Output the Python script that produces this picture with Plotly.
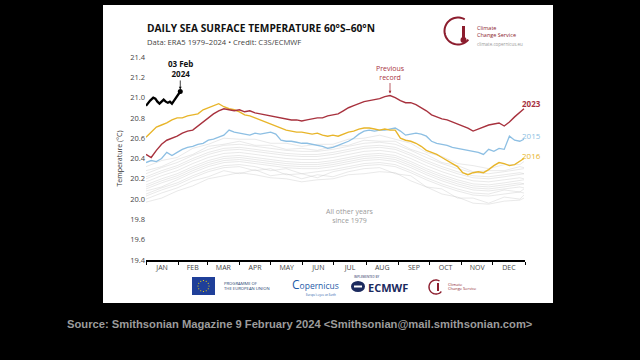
import plotly.graph_objects as go
import math

# ---------------- data ----------------
months = ["JAN", "FEB", "MAR", "APR", "MAY", "JUN", "JUL", "AUG", "SEP", "OCT", "NOV", "DEC"]
month_starts = [0, 31, 59, 90, 120, 151, 181, 212, 243, 273, 304, 334, 365]
yticks = [19.4, 19.6, 19.8, 20.0, 20.2, 20.4, 20.6, 20.8, 21.0, 21.2, 21.4]

days5 = [0, 5, 10, 15, 20, 25, 30, 35, 40, 45, 50, 55, 60, 65, 70, 75, 80, 85, 90, 95,
         100, 105, 110, 115, 120, 125, 130, 135, 140, 145, 150, 155, 160, 165, 170, 175,
         180, 185, 190, 195, 200, 205, 210, 215, 220, 225, 230, 235, 240, 245, 250, 255,
         260, 265, 270, 275, 280, 285, 290, 295, 300, 305, 310, 315, 320, 325, 330, 335,
         340, 345, 350, 355, 360, 364]

sst_2023 = [20.44, 20.41, 20.48, 20.54, 20.58, 20.60, 20.62, 20.65, 20.67, 20.68, 20.72, 20.76,
            20.80, 20.84, 20.87, 20.89, 20.88, 20.87, 20.88, 20.86, 20.87, 20.85, 20.84, 20.83,
            20.82, 20.81, 20.80, 20.79, 20.78, 20.78, 20.77, 20.78, 20.79, 20.80, 20.80, 20.82,
            20.83, 20.84, 20.87, 20.90, 20.92, 20.94, 20.96, 20.97, 20.98, 20.99, 21.01, 21.02,
            21.00, 20.97, 20.95, 20.95, 20.93, 20.90, 20.87, 20.83, 20.81, 20.79, 20.78, 20.76,
            20.74, 20.72, 20.70, 20.67, 20.69, 20.71, 20.73, 20.74, 20.75, 20.72, 20.76, 20.81,
            20.85, 20.89]

sst_2016 = [20.61, 20.66, 20.71, 20.73, 20.75, 20.78, 20.80, 20.80, 20.82, 20.83, 20.84, 20.88,
            20.90, 20.92, 20.94, 20.91, 20.89, 20.88, 20.86, 20.83, 20.82, 20.80, 20.78, 20.76,
            20.74, 20.72, 20.70, 20.68, 20.67, 20.66, 20.66, 20.65, 20.64, 20.65, 20.63, 20.62,
            20.63, 20.62, 20.64, 20.66, 20.67, 20.69, 20.70, 20.70, 20.69, 20.68, 20.69, 20.68,
            20.68, 20.60, 20.58, 20.57, 20.55, 20.52, 20.48, 20.46, 20.44, 20.41, 20.38, 20.35,
            20.32, 20.26, 20.24, 20.26, 20.27, 20.26, 20.29, 20.33, 20.36, 20.35, 20.33, 20.34,
            20.37, 20.40]

sst_2015 = [20.36, 20.38, 20.37, 20.40, 20.46, 20.43, 20.46, 20.49, 20.51, 20.52, 20.54, 20.55,
            20.58, 20.59, 20.61, 20.63, 20.68, 20.66, 20.65, 20.64, 20.63, 20.65, 20.64, 20.65,
            20.66, 20.64, 20.58, 20.57, 20.57, 20.56, 20.55, 20.55, 20.54, 20.53, 20.52, 20.50,
            20.51, 20.53, 20.55, 20.57, 20.60, 20.64, 20.67, 20.68, 20.67, 20.68, 20.68, 20.69,
            20.70, 20.67, 20.63, 20.64, 20.65, 20.64, 20.62, 20.57, 20.55, 20.54, 20.53, 20.51,
            20.50, 20.49, 20.48, 20.47, 20.46, 20.44, 20.49, 20.47, 20.50, 20.49, 20.62, 20.58,
            20.57, 20.59]

days_2024 = [0, 2, 4, 7, 9, 11, 13, 15, 17, 19, 21, 23, 25, 27, 29, 31, 33]
sst_2024 = [20.92, 20.95, 20.97, 21.00, 20.99, 20.96, 20.94, 20.96, 20.98, 20.96, 20.95, 20.96,
            20.94, 20.97, 21.00, 21.03, 21.06]

days15 = [0, 15, 30, 45, 60, 75, 90, 105, 120, 135, 150, 165, 180, 195, 210, 225, 240, 255,
          270, 285, 300, 315, 330, 345, 360, 364]
other_years = [
    [19.97, 20.01, 20.08, 20.13, 20.20, 20.23, 20.26, 20.24, 20.21, 20.20, 20.17, 20.19, 20.20, 20.24, 20.25, 20.27, 20.26, 20.18, 20.12, 20.05, 20.02, 19.96, 19.95, 19.98, 19.99, 20.01],
    [20.00, 20.06, 20.11, 20.18, 20.22, 20.28, 20.25, 20.29, 20.23, 20.25, 20.20, 20.24, 20.22, 20.27, 20.30, 20.31, 20.25, 20.23, 20.12, 20.10, 20.01, 20.01, 19.96, 20.02, 20.00, 20.04],
    [20.03, 20.09, 20.14, 20.21, 20.27, 20.31, 20.32, 20.28, 20.30, 20.24, 20.25, 20.21, 20.27, 20.30, 20.33, 20.34, 20.32, 20.26, 20.19, 20.13, 20.08, 20.04, 20.03, 20.05, 20.07, 20.06],
    [20.05, 20.11, 20.16, 20.23, 20.29, 20.33, 20.34, 20.32, 20.28, 20.30, 20.25, 20.27, 20.29, 20.32, 20.35, 20.36, 20.34, 20.28, 20.21, 20.15, 20.10, 20.06, 20.05, 20.09, 20.07, 20.10],
    [20.08, 20.12, 20.19, 20.26, 20.32, 20.36, 20.37, 20.35, 20.33, 20.31, 20.30, 20.30, 20.32, 20.35, 20.38, 20.39, 20.37, 20.31, 20.24, 20.18, 20.13, 20.09, 20.08, 20.10, 20.12, 20.11],
    [20.10, 20.16, 20.21, 20.28, 20.34, 20.38, 20.39, 20.37, 20.35, 20.33, 20.32, 20.32, 20.34, 20.37, 20.40, 20.41, 20.39, 20.33, 20.26, 20.20, 20.15, 20.11, 20.10, 20.12, 20.14, 20.15],
    [20.12, 20.18, 20.23, 20.30, 20.36, 20.40, 20.41, 20.39, 20.37, 20.35, 20.34, 20.34, 20.36, 20.39, 20.42, 20.43, 20.41, 20.35, 20.28, 20.22, 20.17, 20.13, 20.12, 20.14, 20.16, 20.15],
    [20.14, 20.20, 20.25, 20.32, 20.38, 20.42, 20.43, 20.41, 20.39, 20.37, 20.36, 20.36, 20.38, 20.41, 20.44, 20.45, 20.43, 20.37, 20.30, 20.24, 20.19, 20.15, 20.14, 20.16, 20.18, 20.19],
    [20.17, 20.23, 20.28, 20.35, 20.41, 20.45, 20.46, 20.44, 20.42, 20.40, 20.39, 20.39, 20.41, 20.44, 20.47, 20.48, 20.46, 20.40, 20.33, 20.27, 20.22, 20.18, 20.17, 20.19, 20.21, 20.20],
    [20.20, 20.26, 20.31, 20.38, 20.44, 20.48, 20.49, 20.47, 20.45, 20.43, 20.42, 20.42, 20.44, 20.47, 20.50, 20.51, 20.49, 20.43, 20.36, 20.30, 20.25, 20.21, 20.20, 20.22, 20.24, 20.25],
    [20.22, 20.28, 20.33, 20.40, 20.46, 20.50, 20.51, 20.49, 20.47, 20.45, 20.44, 20.44, 20.46, 20.49, 20.52, 20.53, 20.51, 20.45, 20.38, 20.32, 20.27, 20.23, 20.22, 20.24, 20.26, 20.25],
    [20.25, 20.31, 20.36, 20.43, 20.49, 20.53, 20.54, 20.52, 20.50, 20.48, 20.47, 20.47, 20.49, 20.52, 20.55, 20.56, 20.54, 20.48, 20.41, 20.35, 20.30, 20.26, 20.25, 20.27, 20.29, 20.30],
    [20.28, 20.32, 20.39, 20.44, 20.52, 20.54, 20.57, 20.53, 20.53, 20.49, 20.50, 20.48, 20.52, 20.53, 20.58, 20.57, 20.57, 20.49, 20.44, 20.36, 20.33, 20.27, 20.28, 20.28, 20.32, 20.31],
    [20.32, 20.38, 20.41, 20.50, 20.54, 20.60, 20.59, 20.59, 20.55, 20.55, 20.52, 20.54, 20.54, 20.59, 20.60, 20.63, 20.59, 20.55, 20.46, 20.42, 20.35, 20.33, 20.30, 20.34, 20.34, 20.37],
]

# ---------------- styles ----------------
RED = "#a8323e"
GOLD = "#e8b52a"
BLUE = "#8dbfe3"
FONT = "Open Sans"

L, T, W, H = 146, 57, 379, 203


def px(x):
    return (x - L) / W


def py(y):
    return (T + H - y) / H


fig = go.Figure()

for vals in other_years:
    fig.add_trace(go.Scatter(x=days15, y=vals, mode="lines",
                             line=dict(color="rgba(200,200,200,0.5)", width=0.8),
                             hoverinfo="skip", showlegend=False))

fig.add_trace(go.Scatter(x=days5, y=sst_2015, mode="lines", line=dict(color=BLUE, width=1.3), showlegend=False))
fig.add_trace(go.Scatter(x=days5, y=sst_2016, mode="lines", line=dict(color=GOLD, width=1.4), showlegend=False))
fig.add_trace(go.Scatter(x=days5, y=sst_2023, mode="lines", line=dict(color=RED, width=1.4), showlegend=False))
fig.add_trace(go.Scatter(x=days_2024, y=sst_2024, mode="lines", line=dict(color="black", width=2.3), showlegend=False))
fig.add_trace(go.Scatter(x=[days_2024[-1]], y=[sst_2024[-1]], mode="markers",
                         marker=dict(color="black", size=5), showlegend=False))

mid = [(month_starts[i] + month_starts[i + 1]) / 2 for i in range(12)]

shapes = []
shapes.append(dict(type="rect", xref="paper", yref="paper", x0=px(103), x1=px(553), y0=py(303), y1=py(5),
                   fillcolor="white", line=dict(width=0), layer="below"))

annotations = []


def txt(x, y, s, size, color="#333", bold=False, anchor="left", family=FONT):
    annotations.append(dict(x=px(x), y=py(y), xref="paper", yref="paper", text=s, showarrow=False,
                            xanchor=anchor, yanchor="middle",
                            font=dict(size=size, color=color, family=family,
                                      weight="bold" if bold else "normal")))


txt(145, 28, "DAILY SEA SURFACE TEMPERATURE 60°S–60°N", 10.2, "#111", True)
txt(145, 42, "Data: ERA5 1979–2024 • Credit: C3S/ECMWF", 7.6, "#444")

# top-right logo
cx, cy, r = 458, 31, 13.5
pts = []
for k in range(0, 41):
    a = math.radians(60 + k * 6.5)
    pts.append((cx + r * math.cos(a), cy - r * math.sin(a)))
path = "M " + " L ".join(f"{px(a):.5f},{py(b):.5f}" for a, b in pts)
shapes.append(dict(type="path", xref="paper", yref="paper", path=path, line=dict(color="#8c1d2e", width=2.0)))
shapes.append(dict(type="rect", xref="paper", yref="paper", x0=px(462), x1=px(465), y0=py(39), y1=py(26),
                   fillcolor="#8c1d2e", line=dict(width=0)))
shapes.append(dict(type="circle", xref="paper", yref="paper", x0=px(460.5), x1=px(466.5), y0=py(43), y1=py(37),
                   fillcolor="#8c1d2e", line=dict(width=0)))
txt(475, 28, "Climate", 5.5, "#8c1d2e")
txt(475, 35, "Change Service", 5.5, "#8c1d2e")
txt(475, 44, "climate.copernicus.eu", 4.5, "#999")

# bottom logos
shapes.append(dict(type="rect", xref="paper", yref="paper", x0=px(192), x1=px(215), y0=py(295), y1=py(277),
                   fillcolor="#1f3f99", line=dict(width=0)))
for k in range(12):
    a = math.radians(k * 30)
    sx, sy = 203.5 + 5.5 * math.cos(a), 286 - 5.5 * math.sin(a)
    shapes.append(dict(type="circle", xref="paper", yref="paper", x0=px(sx - 0.6), x1=px(sx + 0.6),
                       y0=py(sy + 0.6), y1=py(sy - 0.6), fillcolor="#ffdd00", line=dict(width=0)))
txt(222, 283.5, "PROGRAMME OF", 4.2, "#1f3f70")
txt(222, 288.5, "THE EUROPEAN UNION", 4.2, "#1f3f70")
txt(290, 284.5, "<span style='font-size:12px'>C</span>opernicus", 8.5, "#1e5aa8")
txt(304, 294.5, "Europe's eyes on Earth", 2.8, "#1e5aa8")
txt(352, 276.5, "IMPLEMENTED BY", 3, "#1b2a5e")
shapes.append(dict(type="circle", xref="paper", yref="paper", x0=px(351), x1=px(365), y0=py(292), y1=py(281),
                   fillcolor="#1b2a5e", line=dict(width=0)))
shapes.append(dict(type="rect", xref="paper", yref="paper", x0=px(354), x1=px(362), y0=py(287.5), y1=py(285.5),
                   fillcolor="white", line=dict(width=0)))
txt(366, 287, "ECMWF", 11, "#1b2a5e", True)
pts = []
for k in range(0, 41):
    a = math.radians(60 + k * 6.5)
    pts.append((436 + 7 * math.cos(a), 287 - 7 * math.sin(a)))
path = "M " + " L ".join(f"{px(a):.5f},{py(b):.5f}" for a, b in pts)
shapes.append(dict(type="path", xref="paper", yref="paper", path=path, line=dict(color="#8c1d2e", width=1.4)))
shapes.append(dict(type="rect", xref="paper", yref="paper", x0=px(437), x1=px(439), y0=py(291), y1=py(283),
                   fillcolor="#8c1d2e", line=dict(width=0)))
txt(446, 284, "Climate", 4, "#8c1d2e")
txt(446, 288.5, "Change Service", 4, "#8c1d2e")

# caption
txt(300, 324, "Source: Smithsonian Magazine 9 February 2024 &lt;Smithsonian@mail.smithsonian.com&gt;", 11.2,
    "#9c9c9c", True, "center", "Liberation Sans")

# data annotations
annotations.append(dict(x=days_2024[-1], y=sst_2024[-1] + 0.02, text="<b>03 Feb<br>2024</b>", showarrow=True,
                        ax=0, ay=-21, arrowhead=2, arrowsize=0.7, arrowwidth=0.8, arrowcolor="#111",
                        font=dict(size=8, color="#111", family=FONT)))
annotations.append(dict(x=235, y=21.04, text="Previous<br>record", showarrow=True,
                        ax=0, ay=-21, arrowhead=2, arrowsize=0.7, arrowwidth=0.8, arrowcolor=RED,
                        font=dict(size=7, color=RED, family=FONT)))
annotations.append(dict(x=360, y=20.94, text="<b>2023</b>", showarrow=False, xanchor="left",
                        font=dict(size=8, color=RED, family=FONT)))
annotations.append(dict(x=360, y=20.63, text="2015", showarrow=False, xanchor="left",
                        font=dict(size=8, color=BLUE, family=FONT)))
annotations.append(dict(x=360, y=20.43, text="2016", showarrow=False, xanchor="left",
                        font=dict(size=8, color=GOLD, family=FONT)))
annotations.append(dict(x=196, y=19.83, text="All other years<br>since 1979", showarrow=False,
                        font=dict(size=7, color="#9a9a9a", family=FONT)))

fig.update_layout(
    width=640, height=360,
    margin=dict(l=L, r=640 - L - W, t=T, b=360 - T - H),
    paper_bgcolor="black", plot_bgcolor="rgba(0,0,0,0)",
    shapes=shapes, annotations=annotations,
    xaxis=dict(range=[0, 365], tickvals=mid, ticktext=months, ticks="", showgrid=False, zeroline=False,
               showline=True, linecolor="black", linewidth=1.5,
               tickfont=dict(size=7, color="#444", family=FONT),
               minor=dict(tickvals=month_starts, ticks="outside", ticklen=3, tickcolor="black", tickwidth=1)),
    yaxis=dict(range=[19.4, 21.4], tickvals=yticks, ticktext=[f"{v:.1f}" for v in yticks], ticks="",
               showgrid=False, zeroline=False, showline=False,
               tickfont=dict(size=7.5, color="#444", family=FONT),
               title=dict(text="Temperature (°C)", font=dict(size=7, color="#333", family=FONT), standoff=6)),
)

fig.write_html("out.html", config={"displayModeBar": False},
               post_script="document.body.style.margin='0';document.body.style.background='black';")
